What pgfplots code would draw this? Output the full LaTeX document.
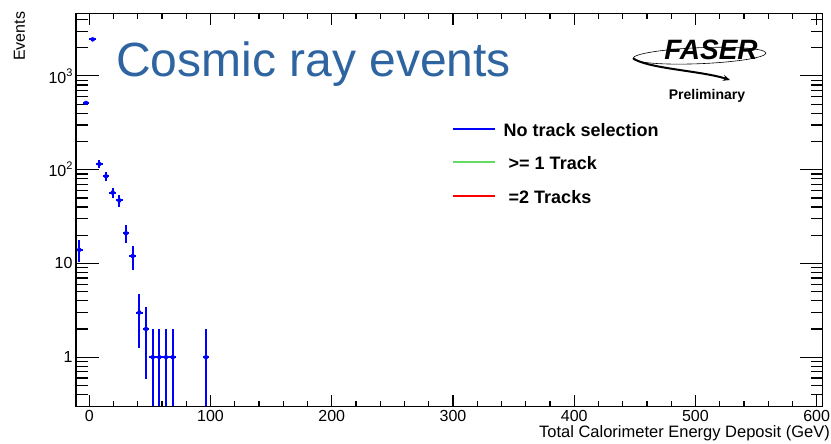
\documentclass[border=0pt]{standalone}
\usepackage{pgfplots}
\pgfplotsset{compat=1.18}
\usepackage{pgfplotstable}
\usepackage{fontspec}
\setmainfont{Liberation Sans}
\usetikzlibrary{arrows.meta}
\definecolor{titleblue}{RGB}{46,100,160}
\definecolor{lgreen}{RGB}{100,220,100}
\definecolor{lred}{RGB}{255,0,0}
\pgfplotstableread{
x y ex eyp eym
-8.25 14 2.75 3.742 3.742
-2.75 515 2.75 22.69 22.69
2.75 2450 2.75 49.5 49.5
8.25 115 2.75 10.72 10.72
13.75 85 2.75 9.22 9.22
19.25 57 2.75 7.55 7.55
24.75 47 2.75 6.86 6.86
30.25 21 2.75 4.58 4.58
35.75 12 2.75 3.46 3.46
41.25 3 2.75 1.732 1.732
46.75 2 2.75 1.414 1.414
52.25 1 2.75 1 0.999
57.75 1 2.75 1 0.999
63.25 1 2.75 1 0.999
68.75 1 2.75 1 0.999
96.25 1 2.75 1 0.999
}\cosmic
\begin{document}
\begin{tikzpicture}
\useasboundingbox (-76bp,-37.3bp) rectangle (755bp,406.7bp);
\begin{axis}[scale only axis, width=746.7bp, height=393.4bp,
  xmin=-11, xmax=605, ymode=log, ymin=0.297, ymax=4648,
  axis line style={line width=1.2bp},
  tick style={black, line width=1.2bp}, tick align=inside,
  tick label style={font=\fontsize{16bp}{18bp}\selectfont},
  xtick=\empty,
  ytick={1,10,100,1000},
  yticklabels={{1},{10},{10\raisebox{7bp}{\fontsize{11bp}{11bp}\selectfont 2}},{10\raisebox{7bp}{\fontsize{11bp}{11bp}\selectfont 3}}},
  minor ytick={0.3,0.4,0.5,0.6,0.7,0.8,0.9,2,3,4,5,6,7,8,9,20,30,40,50,60,70,80,90,200,300,400,500,600,700,800,900,2000,3000,4000},
  major tick length=23bp, minor tick length=11.5bp,
]
\addplot[blue, only marks, mark=none,
  error bars/x dir=both, error bars/x explicit, error bars/y dir=both, error bars/y explicit,
  error bars/error bar style={blue, line width=2bp}, error bars/error mark=none]
  table[x=x, y=y, x error=ex, y error plus=eyp, y error minus=eym] {\cosmic};
\end{axis}
\begin{axis}[scale only axis, width=746.7bp, height=393.4bp,
  xmin=-11, xmax=605, ymode=log, ymin=0.297, ymax=4648,
  axis line style={line width=1.2bp},
  tick style={black, line width=1.2bp}, tick align=inside,
  tick label style={font=\fontsize{16bp}{18bp}\selectfont},
  ytick=\empty,
  xtick={0,100,200,300,400,500,600},
  xticklabels={0,100,200,300,400,500,600},
  minor xtick={20,40,60,80,120,140,160,180,220,240,260,280,320,340,360,380,420,440,460,480,520,540,560,580},
  major tick length=11.8bp, minor tick length=6bp]
\end{axis}
% legend
\draw[blue, line width=1.6bp] (377bp,277.4bp) -- (419bp,277.4bp);
\draw[lgreen, line width=1.6bp] (377bp,244.4bp) -- (419bp,244.4bp);
\draw[lred, line width=1.6bp] (377bp,210.7bp) -- (419bp,210.7bp);
\node[anchor=base west, inner sep=0pt, font=\bfseries\fontsize{18bp}{20bp}\selectfont] at (427.5bp,270bp) {No track selection};
\node[anchor=base west, inner sep=0pt, font=\bfseries\fontsize{18bp}{20bp}\selectfont] at (432.5bp,236.7bp) {>= 1 Track};
\node[anchor=base west, inner sep=0pt, font=\bfseries\fontsize{18bp}{20bp}\selectfont] at (432.5bp,203.4bp) {=2 Tracks};
% titles
\node[anchor=base west, inner sep=0pt, text=titleblue, font=\fontsize{48bp}{56bp}\selectfont] at (40bp,330bp) {Cosmic ray events};
\node[rotate=90, anchor=base east, inner sep=0pt, font=\fontsize{16bp}{18bp}\selectfont] at (-51bp,395bp) {Events};
\node[anchor=base east, inner sep=0pt, font=\fontsize{16.5bp}{18bp}\selectfont] at (754bp,-30.3bp) {Total Calorimeter Energy Deposit (GeV)};
% logo
\draw[line width=0.6bp, rotate around={2.3:(623.5bp,351bp)}] (623.5bp,351bp) ellipse [x radius=66.5bp, y radius=8bp];
\draw[line width=2bp, -{Stealth[length=7bp,width=6bp]}] (557bp,348.4bp) .. controls (572bp,338bp) and (625bp,336bp) .. (654bp,326.7bp);
\node[anchor=base, inner sep=0pt, font=\bfseries\itshape\fontsize{28bp}{30bp}\selectfont] at (635bp,346.7bp) {FASER};
\node[anchor=base, inner sep=0pt, font=\bfseries\fontsize{14bp}{16bp}\selectfont] at (631bp,306.7bp) {Preliminary};
\end{tikzpicture}
\end{document}
